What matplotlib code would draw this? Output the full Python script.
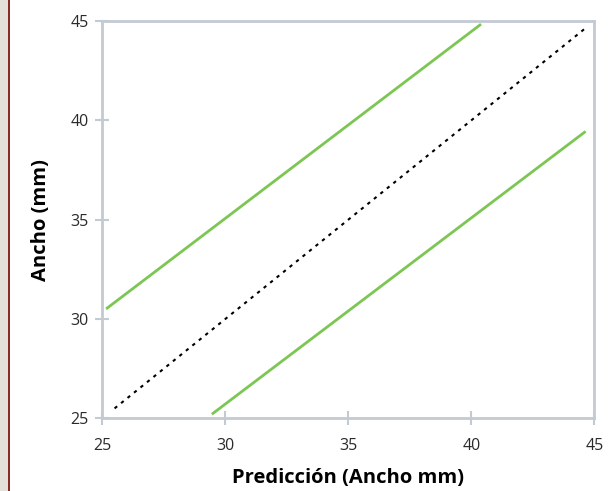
import matplotlib
matplotlib.use('Agg')
import matplotlib.pyplot as plt
from matplotlib.patches import Rectangle

# line end points
ref_x = [25.5, 44.6]
ref_y = [25.5, 44.6]
upper_x = [25.2, 40.35]
upper_y = [30.55, 44.8]
lower_x = [29.5, 44.6]
lower_y = [25.25, 39.4]
ticks = [25, 30, 35, 40, 45]

plt.rcParams['font.family'] = ['Open Sans', 'DejaVu Sans']

fig = plt.figure(figsize=(6.11, 4.91), dpi=100)
# left frame strip of the source page
fig.patches.append(Rectangle((0, 0), 8 / 611, 1, transform=fig.transFigure,
                             facecolor='#e4e0da', edgecolor='none'))
fig.patches.append(Rectangle((8 / 611, 0), 2 / 611, 1, transform=fig.transFigure,
                             facecolor='#8b2a2a', edgecolor='none'))

ax = fig.add_axes([0.1674, 0.148, 0.8053, 0.8092])
green = '#7cc653'
ax.plot(upper_x, upper_y, color=green, lw=2)
ax.plot(lower_x, lower_y, color=green, lw=2)
ax.plot(ref_x, ref_y, color='black', lw=1.5, linestyle=(0, (1.6, 2.4)))

ax.set_xlim(25, 45)
ax.set_ylim(25, 45)
ax.set_xticks(ticks)
ax.set_yticks(ticks)
for s in ax.spines.values():
    s.set_color('#c3cad2')
    s.set_linewidth(2)
ax.tick_params(direction='inout', length=10, width=1.5, color='#c3cad2',
               labelsize=11.5, labelcolor='#2a2a2a', pad=5)
ax.tick_params(axis='x', pad=9)

ax.set_xlabel('Predicción (Ancho mm)', fontsize=14.5, fontweight='bold', labelpad=10)
ax.set_ylabel('Ancho (mm)', fontsize=14.5, fontweight='bold', labelpad=14)

fig.savefig('out.png', dpi=100)
